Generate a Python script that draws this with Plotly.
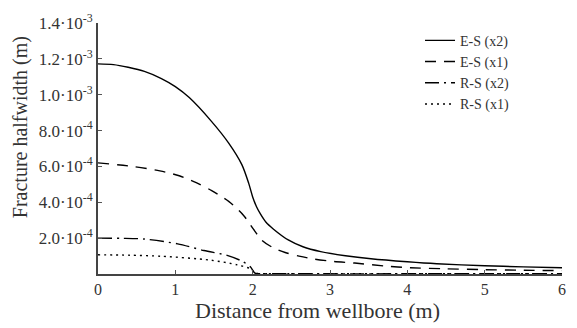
import plotly.graph_objects as go

# Distance from wellbore (m) and fracture halfwidth (m)
es2_x = [0, 0.2, 0.39, 0.6, 0.82, 1.0, 1.18, 1.47, 1.69, 1.86, 1.95, 2.0, 2.05, 2.1, 2.17,
         2.27, 2.46, 2.65, 2.88, 3.2, 3.53, 4.0, 4.38, 5.0, 5.5, 6.0]
es2_y = [11.72e-4, 11.68e-4, 11.53e-4, 11.3e-4, 10.9e-4, 10.45e-4, 9.84e-4, 8.5e-4, 7.3e-4,
         6.1e-4, 5.04e-4, 4.3e-4, 3.75e-4, 3.35e-4, 2.9e-4, 2.5e-4, 1.9e-4, 1.52e-4, 1.25e-4,
         1.02e-4, 0.85e-4, 0.68e-4, 0.57e-4, 0.46e-4, 0.40e-4, 0.35e-4]

es1_x = [0, 0.45, 0.8, 1.05, 1.27, 1.47, 1.69, 1.88, 2.01, 2.12, 2.25, 2.42, 2.6, 2.8, 3.05,
         3.32, 3.7, 4.04, 4.5, 5.0, 5.5, 6.0]
es1_y = [6.2e-4, 6.0e-4, 5.75e-4, 5.48e-4, 5.1e-4, 4.65e-4, 4.05e-4, 3.28e-4, 2.5e-4,
         1.88e-4, 1.5e-4, 1.2e-4, 1.0e-4, 0.83e-4, 0.7e-4, 0.61e-4, 0.45e-4, 0.35e-4,
         0.29e-4, 0.24e-4, 0.21e-4, 0.19e-4]

rs2_x = [0, 0.3, 0.6, 1.03, 1.37, 1.67, 1.86, 1.97, 2.03, 2.1, 2.5, 3.0, 4.0, 5.0, 6.0]
rs2_y = [2.0e-4, 1.99e-4, 1.95e-4, 1.68e-4, 1.31e-4, 1.04e-4, 0.72e-4, 0.4e-4, 0.05e-4,
         0.02e-4, 0.015e-4, 0.01e-4, 0.01e-4, 0.01e-4, 0.01e-4]

rs1_x = [0, 0.4, 0.82, 1.46, 1.8, 1.97, 2.03, 2.1, 2.5, 3.0, 4.0, 5.0, 6.0]
rs1_y = [1.07e-4, 1.05e-4, 0.99e-4, 0.77e-4, 0.51e-4, 0.29e-4, 0.05e-4, 0.02e-4, 0.01e-4,
         0.01e-4, 0.01e-4, 0.01e-4, 0.01e-4]

x_ticks = [0, 1, 2, 3, 4, 5, 6]
y_ticks = [2e-4, 4e-4, 6e-4, 8e-4, 1.0e-3, 1.2e-3, 1.4e-3]
y_ticktext = ["2.0·10<sup>-4</sup>", "4.0·10<sup>-4</sup>", "6.0·10<sup>-4</sup>",
              "8.0·10<sup>-4</sup>", "1.0·10<sup>-3</sup>", "1.2·10<sup>-3</sup>",
              "1.4·10<sup>-3</sup>"]

FONT = "Liberation Serif"
TXT = "#333"
fig = go.Figure()
series = [
    ("E-S (x2)", es2_x, es2_y, "solid"),
    ("E-S (x1)", es1_x, es1_y, "11px,8px"),
    ("R-S (x2)", rs2_x, rs2_y, "14px,5px,2px,5px"),
    ("R-S (x1)", rs1_x, rs1_y, "2px,4px"),
]
for name, xs, ys, dash in series:
    fig.add_trace(go.Scatter(x=xs, y=ys, mode="lines", name=name,
                             line=dict(color="black", width=1.4, dash=dash,
                                       shape="spline", smoothing=0.8)))

fig.add_annotation(text="Fracture halfwidth (m)", textangle=-90, xref="paper", yref="paper",
                   x=-0.168, y=0.585, xanchor="center", yanchor="middle", showarrow=False,
                   font=dict(size=20, family=FONT, color=TXT))
fig.add_annotation(text="Distance from wellbore (m)", xref="paper", yref="paper",
                   x=0.474, y=-0.146, xanchor="center", yanchor="middle", showarrow=False,
                   font=dict(size=22, family=FONT, color=TXT))

fig.update_layout(
    width=577, height=328,
    margin=dict(l=98, r=11, t=14, b=54),
    paper_bgcolor="white", plot_bgcolor="white",
    font=dict(family=FONT, color=TXT, size=15),
    showlegend=True,
    legend=dict(x=0.694, y=0.993, xanchor="left", yanchor="top",
                bgcolor="rgba(0,0,0,0)", font=dict(size=14, family=FONT, color=TXT),
                tracegroupgap=0, itemwidth=30),
    xaxis=dict(range=[0, 6], tickvals=x_ticks, ticks="inside", ticklen=4,
               tickcolor="#555", showline=True, linecolor="#444", linewidth=2,
               showgrid=False, zeroline=False, mirror=False,
               tickfont=dict(size=16, family=FONT, color=TXT)),
    yaxis=dict(range=[0, 1.4e-3], tickvals=y_ticks, ticktext=y_ticktext, ticks="inside",
               ticklen=4, tickcolor="#555", showline=True, linecolor="#444", linewidth=2,
               showgrid=False, zeroline=False, mirror=False,
               tickfont=dict(size=17, family=FONT, color=TXT)),
)
fig.write_html("out.html")
